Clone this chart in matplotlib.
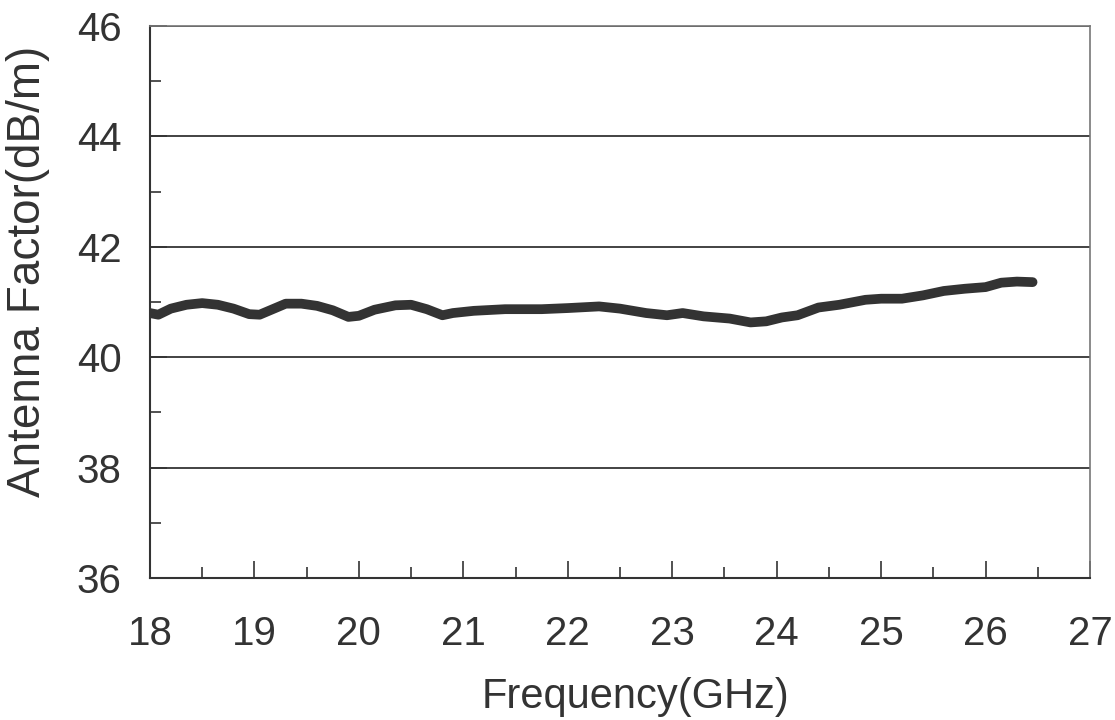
import matplotlib.pyplot as plt
from matplotlib.ticker import MultipleLocator

plt.rcParams['font.family'] = ['Liberation Sans', 'DejaVu Sans']

# Antenna factor curve
freq = [18.00, 18.08, 18.20, 18.35, 18.50, 18.65, 18.80, 18.95, 19.05, 19.15,
        19.30, 19.45, 19.60, 19.75, 19.90, 20.00, 20.15, 20.35, 20.50, 20.65,
        20.80, 20.90, 21.10, 21.40, 21.75, 22.00, 22.30, 22.50, 22.75, 22.95,
        23.10, 23.30, 23.55, 23.75, 23.90, 24.05, 24.20, 24.40, 24.60, 24.85,
        25.00, 25.20, 25.40, 25.60, 25.80, 26.00, 26.15, 26.30, 26.45]
af = [40.80, 40.77, 40.88, 40.95, 40.98, 40.95, 40.88, 40.78, 40.77, 40.85,
      40.97, 40.97, 40.93, 40.85, 40.73, 40.75, 40.86, 40.94, 40.95, 40.87,
      40.76, 40.80, 40.84, 40.87, 40.87, 40.89, 40.92, 40.88, 40.80, 40.76,
      40.80, 40.74, 40.70, 40.63, 40.65, 40.72, 40.76, 40.90, 40.95, 41.04,
      41.06, 41.06, 41.12, 41.20, 41.24, 41.27, 41.35, 41.37, 41.36]

fig = plt.figure(figsize=(11.15, 7.2), dpi=100)
ax = fig.add_axes([0.1345, 0.1972, 0.8431, 0.7667])

ax.plot(freq, af, color='#333333', linewidth=7, solid_capstyle='round',
        solid_joinstyle='round')

ax.set_xlim(18, 27)
ax.set_ylim(36, 46)
ax.xaxis.set_major_locator(MultipleLocator(1))
ax.xaxis.set_minor_locator(MultipleLocator(0.5))
ax.yaxis.set_major_locator(MultipleLocator(2))
ax.yaxis.set_minor_locator(MultipleLocator(1))

ax.grid(True, axis='y', which='major', color='#222222', linewidth=1.2)
ax.tick_params(axis='both', which='major', direction='in', length=12,
               width=1.2, color='#333333', labelsize=29, labelcolor='#333333')
ax.tick_params(axis='x', which='major', pad=26.5)
ax.tick_params(axis='y', which='major', pad=20.5)
ax.tick_params(axis='both', which='minor', direction='in', length=8,
               width=1.2, color='#333333')

for side in ['left', 'bottom']:
    ax.spines[side].set_color('#333333')
    ax.spines[side].set_linewidth(1.5)
for side in ['top', 'right']:
    ax.spines[side].set_color('#777777')
    ax.spines[side].set_linewidth(1.2)

ax.set_xlabel('Frequency(GHz)', fontsize=30, color='#333333', va='center')
ax.xaxis.set_label_coords(0.516, -0.2156)
ax.set_ylabel('Antenna Factor(dB/m)', fontsize=33, color='#333333',
              va='center', ha='center')
ax.yaxis.set_label_coords(-0.130, 0.555)

fig.savefig('out.png', dpi=100)
